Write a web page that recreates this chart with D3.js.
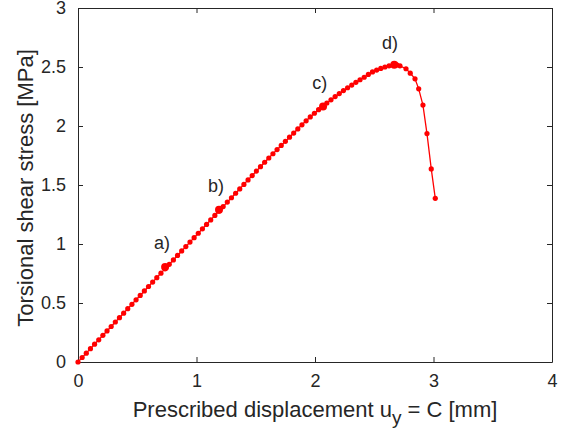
<!DOCTYPE html>
<html>
<head>
<meta charset="utf-8">
<title>Torsional shear stress</title>
<script src="https://cdn.jsdelivr.net/npm/d3@7"></script>
<style>
  body { margin: 0; background: #fff; }
  svg text { font-family: "Liberation Sans", Arial, sans-serif; fill: #262626; }
  .axis path, .axis line { stroke: #262626; }
</style>
</head>
<body>
<svg id="chart" width="564" height="436"></svg>
<script>
// displacement [mm] and stress [MPa]
var dispMm = [0, 0.035, 0.07, 0.105, 0.14, 0.175, 0.21, 0.245, 0.28, 0.315, 0.35, 0.385, 0.42, 0.455, 0.49,
  0.525, 0.56, 0.595, 0.63, 0.665, 0.70, 0.735, 0.77, 0.805, 0.84, 0.875, 0.91, 0.945, 0.98, 1.015,
  1.05, 1.085, 1.12, 1.155, 1.19, 1.225, 1.26, 1.295, 1.33, 1.365, 1.40, 1.435, 1.47, 1.505, 1.54,
  1.575, 1.61, 1.645, 1.68, 1.715, 1.75, 1.785, 1.82, 1.855, 1.89, 1.925, 1.96, 1.995, 2.03, 2.065,
  2.10, 2.135, 2.17, 2.205, 2.24, 2.275, 2.31, 2.345, 2.38, 2.415, 2.45, 2.485, 2.52, 2.555, 2.59,
  2.625, 2.66, 2.69, 2.717, 2.768, 2.804, 2.844, 2.875, 2.911, 2.945, 2.981, 3.015];
var stressMPa = [0, 0.038, 0.075, 0.113, 0.151, 0.188, 0.226, 0.263, 0.301, 0.339, 0.376, 0.414, 0.452, 0.489, 0.527,
  0.564, 0.602, 0.640, 0.677, 0.715, 0.753, 0.790, 0.828, 0.865, 0.903, 0.941, 0.978, 1.016, 1.054, 1.091,
  1.129, 1.166, 1.204, 1.242, 1.279, 1.317, 1.355, 1.392, 1.430, 1.467, 1.505, 1.543, 1.580, 1.618, 1.655,
  1.693, 1.729, 1.765, 1.800, 1.835, 1.870, 1.905, 1.940, 1.975, 2.010, 2.044, 2.077, 2.108, 2.138, 2.167,
  2.195, 2.222, 2.249, 2.275, 2.300, 2.324, 2.347, 2.370, 2.392, 2.413, 2.437, 2.458, 2.474, 2.488, 2.500,
  2.510, 2.517, 2.518, 2.510, 2.485, 2.448, 2.400, 2.315, 2.177, 1.936, 1.636, 1.387];

// highlighted states a) - d)
var stateNames = ["a)", "b)", "c)", "d)"];
var stateDisp = [0.735, 1.19, 2.068, 2.669];
var stateStress = [0.805, 1.29, 2.165, 2.519];
var labelDisp = [0.708, 1.164, 2.04, 2.633];
var labelStress = [0.955, 1.44, 2.315, 2.655];

var xTicks = [0, 1, 2, 3, 4];
var yTicks = [0, 0.5, 1, 1.5, 2, 2.5, 3];

var svg = d3.select("#chart");
var mLeft = 78, mRight = 552, mTop = 8, mBottom = 362;

var x = d3.scaleLinear().domain([0, 4]).range([mLeft, mRight]);
var y = d3.scaleLinear().domain([0, 3]).range([mBottom, mTop]);

var red = "#ff0000";

// box with ticks on all four sides, pointing inward
svg.append("g").attr("class", "axis")
  .attr("transform", "translate(0," + mBottom + ")")
  .call(d3.axisBottom(x).tickValues(xTicks).tickSizeInner(-5).tickSizeOuter(0).tickPadding(12).tickFormat(d3.format("d")))
  .call(function(g) { g.selectAll("text").style("font-size", "18px"); });
svg.append("g").attr("class", "axis")
  .attr("transform", "translate(0," + mTop + ")")
  .call(d3.axisTop(x).tickValues(xTicks).tickSizeInner(-5).tickSizeOuter(0).tickFormat(""));
svg.append("g").attr("class", "axis")
  .attr("transform", "translate(" + mLeft + ",0)")
  .call(d3.axisLeft(y).tickValues(yTicks).tickSizeInner(-5).tickSizeOuter(0).tickPadding(12).tickFormat(d3.format("")))
  .call(function(g) { g.selectAll("text").style("font-size", "18px"); });
svg.append("g").attr("class", "axis")
  .attr("transform", "translate(" + mRight + ",0)")
  .call(d3.axisRight(y).tickValues(yTicks).tickSizeInner(-5).tickSizeOuter(0).tickFormat(""));

// axis titles
var xt = svg.append("text")
  .attr("x", (mLeft + mRight) / 2) .attr("y", 417)
  .attr("text-anchor", "middle").style("font-size", "22px");
xt.append("tspan").text("Prescribed displacement u");
xt.append("tspan").attr("dy", 7).style("font-size", "19px").text("y");
xt.append("tspan").attr("dy", -7).text(" = C [mm]");

svg.append("text")
  .attr("transform", "translate(33," + ((mTop + mBottom) / 2 + 3) + ") rotate(-90)")
  .attr("text-anchor", "middle").style("font-size", "22px")
  .text("Torsional shear stress [MPa]");

// curve
var pts = dispMm.map(function(d, i) { return [d, stressMPa[i]]; });
var line = d3.line().x(function(d) { return x(d[0]); }).y(function(d) { return y(d[1]); });

svg.append("path").datum(pts)
  .attr("d", line).attr("fill", "none")
  .attr("stroke", red).attr("stroke-width", 1.3);

svg.append("g").selectAll("circle").data(pts).enter().append("circle")
  .attr("cx", function(d) { return x(d[0]); })
  .attr("cy", function(d) { return y(d[1]); })
  .attr("r", 2.6).attr("fill", red);

svg.append("g").selectAll("circle").data(stateNames).enter().append("circle")
  .attr("cx", function(d, i) { return x(stateDisp[i]); })
  .attr("cy", function(d, i) { return y(stateStress[i]); })
  .attr("r", 4).attr("fill", red);

svg.append("g").selectAll("text").data(stateNames).enter().append("text")
  .attr("x", function(d, i) { return x(labelDisp[i]); })
  .attr("y", function(d, i) { return y(labelStress[i]); })
  .attr("text-anchor", "middle").style("font-size", "18px")
  .text(function(d) { return d; });
</script>
</body>
</html>
